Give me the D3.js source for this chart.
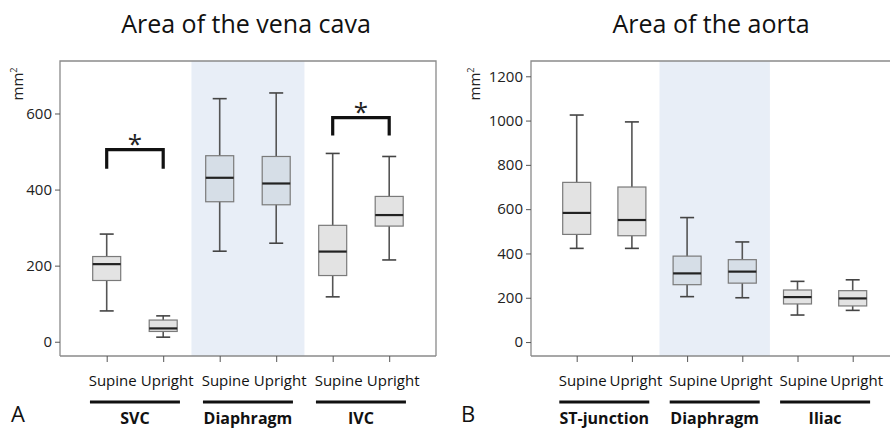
<!DOCTYPE html>
<html>
<head>
  <meta charset="utf-8" />
  <title>Area of the vena cava / aorta</title>
  <style>
    body { margin: 0; background: #ffffff; }
    svg { display: block; font-family: 'Open Sans', Arial, sans-serif; }
  </style>
  <script src="https://cdnjs.cloudflare.com/ajax/libs/d3/7.8.5/d3.min.js"></script>
</head>
<body>
<div id="chart"></div>
<script>
  // positions inside each group
  var positions = ["Supine", "Upright"];

  // panel A: vena cava
  var venaGroups = ["SVC", "Diaphragm", "IVC"];
  // [low whisker, Q1, median, Q3, high whisker]
  var venaSupine = [[81, 161, 204, 224, 283], [238, 368, 431, 489, 639], [118, 174, 237, 306, 495]];
  var venaUpright = [[12, 27, 35, 57, 68], [259, 360, 416, 487, 654], [215, 304, 333, 382, 487]];
  var venaTicks = [0, 200, 400, 600];
  // significance brackets: group, top value, leg end value
  var venaStars = [["SVC", 505, 455], ["IVC", 589, 542]];

  // panel B: aorta
  var aortaGroups = ["ST-junction", "Diaphragm", "Iliac"];
  var aortaSupine = [[423, 486, 583, 721, 1025], [205, 259, 310, 388, 562], [122, 172, 203, 235, 274]];
  var aortaUpright = [[423, 480, 551, 700, 994], [200, 266, 318, 372, 452], [143, 163, 197, 232, 281]];
  var aortaTicks = [0, 200, 400, 600, 800, 1000, 1200];

  var W = 890, H = 428;
  var svg = d3.select("#chart").append("svg").attr("width", W).attr("height", H);

  function panel(opt) {
    var g = svg.append("g");
    var top = 61, bottom = 356;
    var keys = [];
    opt.groups.forEach(function (grp) {
      positions.forEach(function (p) { keys.push(grp + "|" + p); });
    });
    var x = d3.scalePoint().domain(keys).range([opt.x0, opt.x0 + opt.step * 5]);
    var y = d3.scaleLinear().domain(opt.domain).range([bottom, top]);

    // shaded middle group
    var mid = opt.groups[1];
    var c = (x(mid + "|Supine") + x(mid + "|Upright")) / 2;
    g.append("rect")
      .attr("x", c - opt.step).attr("y", top)
      .attr("width", opt.step * 2).attr("height", bottom - top)
      .attr("fill", "#e8eef7");

    // frame
    g.append("path")
      .attr("d", "M" + opt.left + "," + bottom + "V" + top + "H" + opt.right + (opt.closed ? "V" + bottom : ""))
      .attr("fill", "none").attr("stroke", "#8a8a8a").attr("stroke-width", 1.3);

    // axes
    var yAxis = g.append("g").attr("transform", "translate(" + opt.left + ",0)")
      .call(d3.axisLeft(y).tickValues(opt.ticks).tickSize(5).tickPadding(3).tickFormat(d3.format("d")));
    yAxis.select(".domain").remove();
    yAxis.selectAll("line").attr("stroke", "#555");
    yAxis.selectAll("text").attr("font-size", 15).attr("fill", "#222").attr("font-family", "'Open Sans', Arial, sans-serif");

    var xAxis = g.append("g").attr("transform", "translate(0," + bottom + ")")
      .call(d3.axisBottom(x).tickSize(6).tickFormat(""));
    xAxis.select(".domain").attr("d", "M" + opt.left + ",0H" + opt.right).attr("stroke", "#8a8a8a").attr("stroke-width", 1.3);
    xAxis.selectAll("line").attr("stroke", "#555");

    // y label
    var lab = g.append("text")
      .attr("transform", "translate(" + opt.labX + ",84) rotate(-90)")
      .attr("text-anchor", "middle").attr("font-size", 15).attr("fill", "#222");
    lab.append("tspan").text("mm");
    lab.append("tspan").attr("dy", -6).attr("font-size", 9).text("2");

    // boxes
    var bw = 28;
    var rows = [];
    opt.groups.forEach(function (grp, i) {
      rows.push({ key: grp + "|Supine", v: opt.supine[i], shaded: i === 1 });
      rows.push({ key: grp + "|Upright", v: opt.upright[i], shaded: i === 1 });
    });
    var b = g.append("g").selectAll("g").data(rows).enter().append("g");
    b.append("line")
      .attr("x1", function (d) { return x(d.key); }).attr("x2", function (d) { return x(d.key); })
      .attr("y1", function (d) { return y(d.v[0]); }).attr("y2", function (d) { return y(d.v[4]); })
      .attr("stroke", "#555").attr("stroke-width", 1.6);
    [0, 4].forEach(function (k) {
      b.append("line")
        .attr("x1", function (d) { return x(d.key) - bw / 4; }).attr("x2", function (d) { return x(d.key) + bw / 4; })
        .attr("y1", function (d) { return y(d.v[k]); }).attr("y2", function (d) { return y(d.v[k]); })
        .attr("stroke", "#444").attr("stroke-width", 1.6);
    });
    b.append("rect")
      .attr("x", function (d) { return x(d.key) - bw / 2; })
      .attr("y", function (d) { return y(d.v[3]); })
      .attr("width", bw)
      .attr("height", function (d) { return y(d.v[1]) - y(d.v[3]); })
      .attr("fill", function (d) { return d.shaded ? "#d6dee7" : "#e3e3e3"; })
      .attr("stroke", "#7a7a7a").attr("stroke-width", 1.2);
    b.append("line")
      .attr("x1", function (d) { return x(d.key) - bw / 2; }).attr("x2", function (d) { return x(d.key) + bw / 2; })
      .attr("y1", function (d) { return y(d.v[2]); }).attr("y2", function (d) { return y(d.v[2]); })
      .attr("stroke", "#222").attr("stroke-width", 2.2);

    // significance brackets
    (opt.stars || []).forEach(function (s) {
      var xa = x(s[0] + "|Supine"), xb = x(s[0] + "|Upright");
      g.append("path")
        .attr("d", "M" + xa + "," + y(s[2]) + "V" + y(s[1]) + "H" + xb + "V" + y(s[2]))
        .attr("fill", "none").attr("stroke", "#111").attr("stroke-width", 3.2);
      g.append("text").attr("x", (xa + xb) / 2).attr("y", y(s[1]) + 3)
        .attr("text-anchor", "middle").attr("font-size", 26).attr("fill", "#222").text("*");
    });

    // category labels
    g.append("g").selectAll("text").data(keys).enter().append("text")
      .attr("x", function (d) { return x(d) + (d.split("|")[1] === "Supine" ? 6 : 4); })
      .attr("y", 386).attr("text-anchor", "middle").attr("font-size", 15).attr("fill", "#111")
      .text(function (d) { return d.split("|")[1]; });

    // group bars and names
    opt.groups.forEach(function (grp) {
      var cx = (x(grp + "|Supine") + x(grp + "|Upright")) / 2;
      g.append("line").attr("x1", cx - 45).attr("x2", cx + 45).attr("y1", 402).attr("y2", 402)
        .attr("stroke", "#111").attr("stroke-width", 3.2);
      g.append("text").attr("x", cx).attr("y", 424).attr("text-anchor", "middle")
        .attr("font-size", 16).attr("font-weight", "bold").attr("fill", "#111").text(grp);
    });

    g.append("text").attr("x", opt.tagX).attr("y", 422).attr("font-size", 22).attr("fill", "#111").text(opt.tag);
    g.append("text").attr("x", opt.titleX).attr("y", 33).attr("text-anchor", "middle")
      .attr("font-size", 25).attr("fill", "#111").text(opt.title);
  }

  panel({
    title: "Area of the vena cava", titleX: 246, tag: "A", tagX: 11,
    groups: venaGroups, supine: venaSupine, upright: venaUpright, stars: venaStars,
    ticks: venaTicks, domain: [-37.5, 738], x0: 106.7, step: 56.5,
    left: 60, right: 436, closed: true, labX: 23
  });
  panel({
    title: "Area of the aorta", titleX: 711, tag: "B", tagX: 461,
    groups: aortaGroups, supine: aortaSupine, upright: aortaUpright,
    ticks: aortaTicks, domain: [-63, 1269], x0: 576.7, step: 55.2,
    left: 531, right: 905, closed: false, labX: 480
  });
</script>
</body>
</html>
